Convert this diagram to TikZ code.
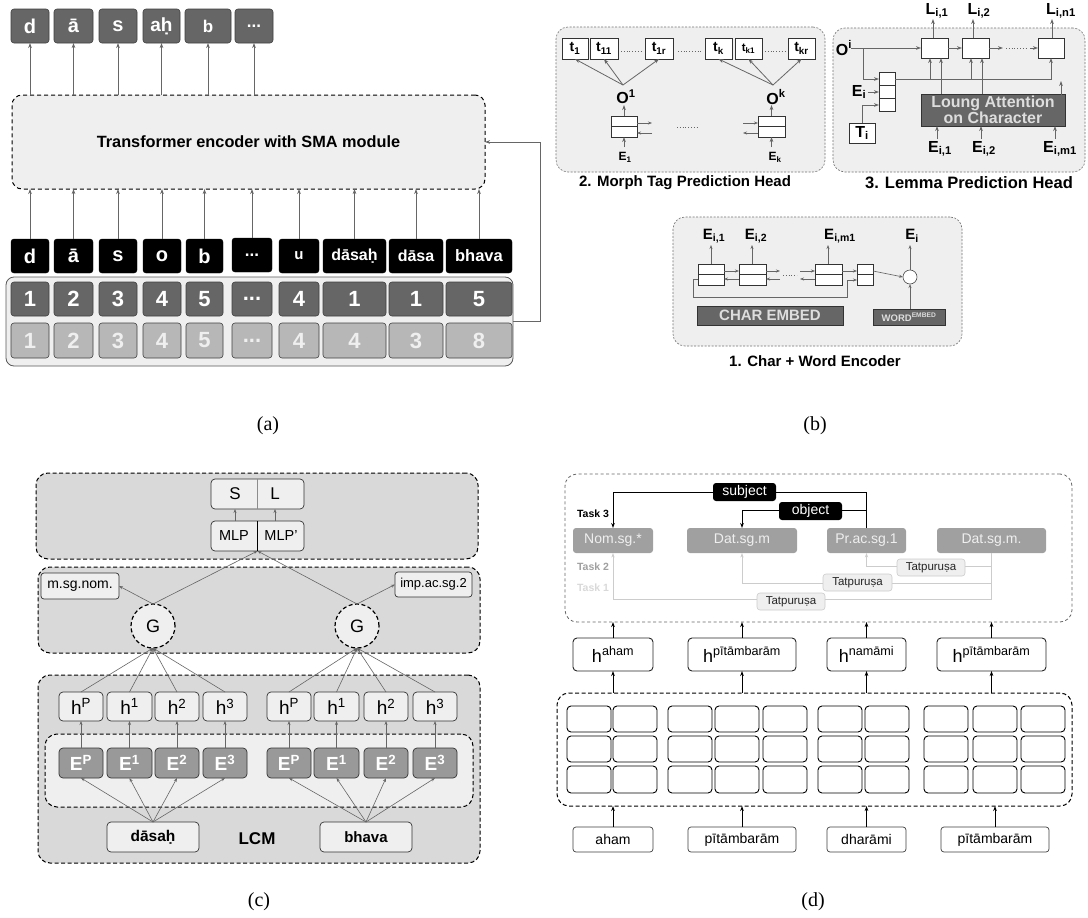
\documentclass[tikz,border=0pt]{standalone}
\usepackage{fontspec}
\setmainfont{Liberation Sans}
\newfontfamily\capfont{Liberation Serif}
\usetikzlibrary{arrows.meta}
\definecolor{gA}{HTML}{666666}
\definecolor{gE}{HTML}{EFEFEF}
\definecolor{gB}{HTML}{B7B7B7}
\definecolor{gD}{HTML}{D9D9D9}
\definecolor{gN}{HTML}{999999}
\definecolor{gL}{HTML}{DDDDDD}
\definecolor{gT}{HTML}{A0A0A0}
\newcommand\fs[1]{\fontsize{#1}{#1}\selectfont}
\newcommand\ddd{...}
\newcommand\bx[7]{\node[#1,minimum width={(#5)-(#3)},minimum height={(#6)-(#4)}] (#2) at ({((#3)+(#5))/2},{((#4)+(#6))/2}) {#7};}
\begin{document}
\begin{tikzpicture}[x=1pt,y=-1pt,
  every node/.style={inner sep=0pt,outer sep=0pt},
  arr/.style={-{Stealth[length=5pt,width=3.6pt]},draw=gA,line width=0.8pt},
  arrs/.style={-{Stealth[length=4pt,width=3pt]},draw=gA,line width=0.6pt},
  arrk/.style={-{Stealth[length=5pt,width=3.6pt]},draw=black,line width=1pt},
  arrl/.style={-{Stealth[length=4.5pt,width=3.2pt]},draw=black!20,line width=1pt},
  dk/.style={draw=black!75,fill=gA,rounded corners=3pt,text=white,font=\bfseries\fs{20},line width=0.6pt},
  blk/.style={draw=black,fill=black,rounded corners=3pt,text=white,font=\bfseries\fs{20}},
  lt/.style={draw=black!75,fill=gB,rounded corners=3pt,text=gE,font=\bfseries\fs{22},line width=0.6pt},
  num/.style={font=\bfseries\fs{22}},
  dashbox/.style={draw=black,dash pattern=on 4pt off 3pt,line width=1pt,rounded corners=10pt},
  gdash/.style={draw=black!55,dash pattern=on 2pt off 1.5pt,line width=0.6pt,rounded corners=12pt,fill=gE},
  wb/.style={draw=black!80,fill=white,line width=0.6pt},
  dots/.style={draw=gA,line width=0.8pt,dash pattern=on 0.8pt off 2pt},
  cdash/.style={draw=black,fill=gD,dash pattern=on 4pt off 2.5pt,line width=1pt,rounded corners=12pt},
  cbx/.style={draw=black!80,fill=gE,rounded corners=4pt,line width=0.7pt},
  ebx/.style={draw=black!80,fill=gN,rounded corners=4pt,line width=0.7pt,text=white,font=\bfseries\fs{19}},
  tag/.style={fill=gT,rounded corners=3pt,text=gE,font=\fs{14}},
  tat/.style={fill=gE,draw=black!20,rounded corners=3pt,font=\fs{11.5},text=black!85,line width=0.6pt},
  cell/.style={draw=black,fill=white,rounded corners=4pt,line width=0.9pt},
  lm/.style={font=\bfseries\fs{16}},
  captxt/.style={font=\capfont\fs{20}}
]
\fill[white] (0,0) rectangle (1088,918);
\useasboundingbox (0,0) rectangle (1088,918);

% ================= (a) =================
\bx{dk}{ot1}{11}{9}{49}{43}{d}
\bx{dk}{ot2}{54}{9}{93}{43}{ā}
\bx{dk}{ot3}{99}{9}{137}{43}{s}
\bx{dk,font=\bfseries\fs{19}}{ot4}{143}{9}{180}{43}{aḥ}
\bx{dk,font=\bfseries\fs{17}}{ot5}{185}{9}{231}{43}{b}
\bx{dk,font=\bfseries\fs{17}}{ot6}{235}{9}{273}{43}{...}
\bx{dashbox,fill=gE}{tr}{12}{95}{485}{189}{\bfseries\fs{16.3}Transformer encoder with SMA module}
\foreach \i in {1,...,6} \draw[arr] (tr.north -| ot\i.south) -- (ot\i.south);

\bx{blk}{ib1}{11}{239}{49}{273}{d}
\bx{blk}{ib2}{54}{239}{93}{273}{ā}
\bx{blk}{ib3}{99}{239}{137}{273}{s}
\bx{blk}{ib4}{143}{239}{181}{273}{o}
\bx{blk}{ib5}{186}{239}{223}{273}{b}
\bx{blk,font=\bfseries\fs{17}}{ib6}{232}{238}{272}{272}{...}
\bx{blk,font=\bfseries\fs{15}}{ib7}{279}{239}{319}{273}{u}
\bx{blk,font=\bfseries\fs{16}}{ib8}{323}{239}{386}{273}{dāsaḥ}
\bx{blk,font=\bfseries\fs{16}}{ib9}{389}{239}{443}{273}{dāsa}
\bx{blk,font=\bfseries\fs{16.5}}{ib10}{446}{239}{512}{273}{bhava}
\foreach \i in {1,...,10} \draw[arr] (ib\i.north) -- (tr.south -| ib\i.north);

\bx{draw=black!65,fill=gE,rounded corners=8pt,line width=0.8pt}{cont}{6}{277}{513}{366}{}
\foreach \n/\a/\b/\t/\u in {1/11/49/1/1,2/54/93/2/2,3/99/137/3/3,4/143/181/4/4,5/186/223/5/5,6/232/272/\ddd/\ddd,7/279/319/4/4,8/323/386/1/4,9/389/443/1/3,10/446/512/5/8}{
  \bx{dk,num}{ra\n}{\a}{282}{\b}{316}{\t}
  \bx{lt}{rb\n}{\a}{323}{\b}{358}{\u}
}
\draw[arr] (cont.east) -- ++(27,0) |- (tr.east);

\node[captxt] (capa) at (268,426) {(a)};

% ================= (b) morph head =================
\bx{gdash}{mh}{556}{27}{825}{172}{}
\node[font=\bfseries\fs{15}] (mht) at (685,183) {2. Morph Tag Prediction Head};
\bx{wb,font=\bfseries\fs{14}}{tb1}{562}{38}{588}{59}{t\textsubscript{1}}
\bx{wb,font=\bfseries\fs{14}}{tb2}{590}{38}{618}{59}{t\textsubscript{11}}
\bx{wb,font=\bfseries\fs{14}}{tb3}{645}{38}{673}{59}{t\textsubscript{1r}}
\bx{wb,font=\bfseries\fs{14}}{tb4}{705}{38}{732}{59}{t\textsubscript{k}}
\bx{wb,font=\bfseries\fs{11.5}}{tb5}{735}{38}{762}{59}{t\textsubscript{k1}}
\bx{wb,font=\bfseries\fs{14}}{tb6}{788}{38}{815}{59}{t\textsubscript{kr}}
\draw[dots] (621,51) -- (643,51);
\draw[dots] (678,51) -- (701,51);
\draw[dots] (765,51) -- (786,51);
\node[font=\bfseries\fs{16}] (o1) at (626,97) {O\textsuperscript{1}};
\node[font=\bfseries\fs{16}] (ok) at (776,97) {O\textsuperscript{k}};
\coordinate (o1t) at (623,85);
\coordinate (okt) at (773,85);
\foreach \i in {1,2,3} \draw[arr] (o1t) -- (tb\i.south);
\foreach \i in {4,5,6} \draw[arr] (okt) -- (tb\i.south);
\bx{wb}{ls1}{611}{116}{637}{137}{}
\bx{wb}{ls2}{758}{116}{785}{137}{}
\draw[black!80] (ls1.west) -- (ls1.east) (ls2.west) -- (ls2.east);
\draw[arr] (ls1.north) -- (ls1.north |- 0,105);
\draw[arr] (ls2.north) -- (ls2.north |- 0,105);
\node[font=\bfseries\fs{12}] (e1) at (625,157) {E\textsubscript{1}};
\node[font=\bfseries\fs{12}] (ek) at (775,157) {E\textsubscript{k}};
\draw[arr] (ls1.south |- 0,147) -- (ls1.south);
\draw[arr] (ls2.south |- 0,147) -- (ls2.south);
\draw[arrs] (ls1.east |- 0,123) -- ++(15,0);
\draw[arrs] (652,133) -- (ls1.east |- 0,133);
\draw[arrs] (743,123) -- (ls2.west |- 0,123);
\draw[arrs] (ls2.west |- 0,133) -- ++(-15,0);
\draw[dots] (677,127) -- (698,127);

% ================= (b) lemma head =================
\bx{gdash}{lh}{833}{28}{1085}{172}{}
\node[font=\bfseries\fs{16.5}] (lht) at (969,183) {3. Lemma Prediction Head};
\node[lm] (oi) at (844,48) {O\textsuperscript{i}};
\bx{wb}{db1}{921}{38}{948}{58}{}
\bx{wb}{db2}{962}{38}{989}{58}{}
\bx{wb}{db3}{1038}{38}{1064}{58}{}
\draw[arr] (851,48) -- (db1.west);
\draw[arr] (db1.east) -- (db2.west);
\draw[arr] (db2.east) -- ++(14,0);
\draw[dots] (1006,48) -- (1028,48);
\draw[arr] ([xshift=-8pt]db3.west) -- (db3.west);
\bx{wb}{cb}{879}{72}{895}{111}{}
\draw[black!80] (879,85) -- (895,85) (879,98) -- (895,98);
\coordinate (oj) at (863,48);
\draw[arr] (oj) |- (cb.west |- 0,79);
\node[lm] (ei) at (859,92) {E\textsubscript{i}};
\draw[arr] (868,92) -- (cb.west |- 0,92);
\bx{wb,lm}{ti}{849}{123}{875}{143}{T\textsubscript{i}}
\draw[arr] (ti.north) |- (cb.west |- 0,105);
\draw[arr] (cb.east |- 0,79) -| (db3.south);
\draw[arr] (930,79) -- (db1.south -| 930,0);
\draw[arr] (971,79) -- (db2.south -| 971,0);
\bx{draw=black!80,fill=gA,text=gL,font=\bfseries\fs{16},align=center}{att}{921}{94}{1065}{126}{Loung Attention\\on Character}
\draw[arr] (att.north -| 941,0) -- (db1.south -| 941,0);
\draw[arr] (att.north -| 982,0) -- (db2.south -| 982,0);
\draw[arr] (1061,110) -- (1061,81);
\node[lm] (eia) at (940,149) {E\textsubscript{i,1}};
\node[lm] (eib) at (984,149) {E\textsubscript{i,2}};
\node[lm] (eic) at (1060,149) {E\textsubscript{i,m1}};
\draw[arr] (937,139) -- (att.south -| 937,0);
\draw[arr] (981,139) -- (att.south -| 981,0);
\draw[arr] (1055,139) -- (att.south -| 1055,0);
\node[lm] (la) at (937,11) {L\textsubscript{i,1}};
\node[lm] (lb) at (979,11) {L\textsubscript{i,2}};
\node[lm] (lc) at (1061,11) {L\textsubscript{i,n1}};
\draw[arr] (db1.north -| 933,0) -- (933,19);
\draw[arr] (db2.north -| 973,0) -- (973,19);
\draw[arr] (db3.north -| 1052,0) -- (1052,19);

% ================= (b) char + word encoder =================
\bx{gdash}{cw}{673}{217}{962}{346}{}
\node[font=\bfseries\fs{15}] (cwt) at (815,361) {1. Char + Word Encoder};
\bx{wb}{c1}{698}{264}{724}{285}{}
\bx{wb}{c2}{739}{264}{766}{285}{}
\bx{wb}{c3}{815}{264}{842}{285}{}
\bx{wb}{cc}{857}{264}{873}{285}{}
\draw[black!80] (c1.west) -- (c1.east) (c2.west) -- (c2.east) (c3.west) -- (c3.east) (cc.west) -- (cc.east);
\draw[arrs] (c1.east |- 0,271) -- (c2.west |- 0,271);
\draw[arrs] (c2.west |- 0,279) -- (c1.east |- 0,279);
\draw[arrs] (c2.east |- 0,271) -- ++(14,0);
\draw[arrs] (780,279) -- (c2.east |- 0,279);
\draw[dots] (783,275) -- (797,275);
\draw[arrs] (800,271) -- (c3.west |- 0,271);
\draw[arrs] (c3.west |- 0,279) -- ++(-15,0);
\draw[arrs] (c3.east |- 0,271) -- (cc.west |- 0,271);
\draw[draw=gA,line width=0.6pt] (c1.west |- 0,279) -- (693,279) -- (693,297) -- (847,297) -- (847,280);
\draw[arrs] (847,280) -- (cc.west |- 0,280);
\node[circle,draw=black!70,fill=white,minimum size=14pt,line width=0.6pt] (circ) at (910,277) {};
\draw[arrs] (cc.east |- 0,271) -- (circ.west);
\bx{draw=black!80,fill=gA,text=gL,font=\bfseries\fs{9.5}}{wrd}{873}{309}{945}{325}{WORD\textsuperscript{EMBED}}
\draw[arrs] (wrd.north -| circ.south) -- (circ.south);
\bx{draw=black!80,fill=gA,text=gL,font=\bfseries\fs{15}}{che}{697}{306}{843}{325}{CHAR EMBED}
\node[font=\bfseries\fs{15}] (eca) at (714,236) {E\textsubscript{i,1}};
\node[font=\bfseries\fs{15}] (ecb) at (756,236) {E\textsubscript{i,2}};
\node[font=\bfseries\fs{15}] (ecc) at (840,236) {E\textsubscript{i,m1}};
\node[font=\bfseries\fs{15}] (ecd) at (912,236) {E\textsubscript{i}};
\draw[arrs] (c1.north -| 711,0) -- (711,245);
\draw[arrs] (c2.north -| 752,0) -- (752,245);
\draw[arrs] (c3.north -| 828,0) -- (828,245);
\draw[arrs] (circ.north) -- (910,245);

\node[captxt] (capb) at (815,426) {(b)};

% ================= (c) =================
\bx{cdash}{ct}{36}{473}{478}{559}{}
\bx{cdash}{cm}{38}{567}{480}{653}{}
\bx{cdash}{cbt}{38}{675}{480}{863}{}
\bx{cdash,fill=gE}{cin}{45}{734}{473}{807}{}
\bx{cbx}{sl}{211}{479}{304}{509}{}
\draw[draw=black!45,line width=0.8pt] (sl.north) -- (sl.south);
\node[font=\fs{17}] (sS) at (235,494) {S};
\node[font=\fs{17}] (sL) at (275,494) {L};
\bx{cbx}{mlp}{211}{521}{304}{551}{}
\draw[draw=black,line width=0.8pt] (mlp.north) -- (mlp.south);
\node[font=\fs{14.5}] (mA) at (234,536) {MLP};
\node[font=\fs{14.5}] (mB) at (281,536) {MLP'};
\draw[arrs] (mlp.north -| sS) -- (sl.south -| sS);
\draw[arrs] (mlp.north -| 275,0) -- (sl.south -| 275,0);
\bx{cbx,rounded corners=3pt,font=\fs{14}}{msg}{41}{573}{119}{599}{m.sg.nom.}
\bx{cbx,rounded corners=3pt,font=\fs{13}}{imp}{395}{572}{472}{597}{imp.ac.sg.2}
\node[circle,draw=black,fill=gE,dash pattern=on 4pt off 2.5pt,line width=1.2pt,minimum size=44pt,font=\fs{18}] (G1) at (153,626) {G};
\node[circle,draw=black,fill=gE,dash pattern=on 4pt off 2.5pt,line width=1.2pt,minimum size=44pt,font=\fs{18}] (G2) at (357,626) {G};
\draw[arrs] (G1.north) -- (mlp.south);
\draw[arrs] (G2.north) -- (mlp.south);
\draw[arrs] (G1.north) -- (msg.east);
\draw[arrs] (G2.north) -- (imp.west);
\foreach \n/\a/\b/\s in {1/59/103/P,2/107/152/1,3/155/199/2,4/203/247/3}{
  \bx{cbx,font=\fs{19}}{ha\n}{\a}{692}{\b}{721}{h\textsuperscript{\s}}
  \bx{ebx}{ea\n}{\a}{748}{\b}{778}{E\textsuperscript{\s}}
  \draw[arrs] (ea\n.north) -- (ha\n.south);
  \draw[arrs] (ha\n.north) -- (G1.south);
}
\foreach \n/\a/\b/\s in {1/267/311/P,2/314/359/1,3/364/408/2,4/413/457/3}{
  \bx{cbx,font=\fs{19}}{hb\n}{\a}{692}{\b}{721}{h\textsuperscript{\s}}
  \bx{ebx}{eb\n}{\a}{748}{\b}{778}{E\textsuperscript{\s}}
  \draw[arrs] (eb\n.north) -- (hb\n.south);
  \draw[arrs] (hb\n.north) -- (G2.south);
}
\bx{cbx,font=\bfseries\fs{15.5}}{ds}{107}{822}{199}{852}{dāsaḥ}
\bx{cbx,font=\bfseries\fs{15}}{bh}{320}{822}{412}{852}{bhava}
\foreach \n in {1,...,4}{
  \draw[arrs] (ds.north) -- (ea\n.south);
  \draw[arrs] (bh.north) -- (eb\n.south);
}
\node[font=\bfseries\fs{17}] (lcm) at (257,839) {LCM};

\node[captxt] (capc) at (259,902) {(c)};

% ================= (d) =================
\bx{draw=black!60,dash pattern=on 3pt off 2.5pt,line width=0.8pt,rounded corners=12pt}{dt}{565}{474}{1072}{622}{}
\bx{tag}{nd1}{573}{528}{653}{553}{Nom.sg.*}
\bx{tag}{nd2}{687}{528}{797}{553}{Dat.sg.m}
\bx{tag}{nd3}{827}{528}{906}{553}{Pr.ac.sg.1}
\bx{tag}{nd4}{937}{528}{1046}{553}{Dat.sg.m.}
\node[font=\bfseries\fs{10.5}] (t3) at (593,514) {Task 3};
\node[font=\bfseries\fs{10.5},text=gT] (t2) at (593,567) {Task 2};
\node[font=\bfseries\fs{10.5},text=black!15] (t1) at (593,588) {Task 1};
\draw[arrk] (nd3.north) -- (nd3.north |- 0,492) -- (nd1.north |- 0,492) -- (nd1.north);
\draw[arrk] (nd3.north |- 0,510) -- (nd2.north |- 0,510) -- (nd2.north);
\bx{fill=black,rounded corners=3pt,text=white,font=\fs{14}}{sbj}{713}{483}{776}{501}{subject}
\bx{fill=black,rounded corners=3pt,text=white,font=\fs{14}}{obj}{779}{502}{842}{520}{object}
\draw[draw=black!20,line width=1pt] (nd4.south) -- (nd4.south |- 0,599);
\draw[arrl] (nd4.south |- 0,566) -- (nd3.south |- 0,566) -- (nd3.south);
\draw[arrl] (nd4.south |- 0,583) -- (nd2.south |- 0,583) -- (nd2.south);
\draw[arrl] (nd4.south |- 0,599) -- (nd1.south |- 0,599) -- (nd1.south);
\bx{tat}{tp1}{897}{559}{965}{576}{Tatpuruṣa}
\bx{tat}{tp2}{823}{574}{892}{591}{Tatpuruṣa}
\bx{tat}{tp3}{757}{593}{825}{610}{Tatpuruṣa}

\bx{draw=black,dash pattern=on 4pt off 2.5pt,line width=1pt,rounded corners=12pt}{ld}{557}{693}{1072}{806}{}
\foreach \a/\b [count=\c] in {567/611,613/657,668/712,715/759,763/807,818/862,865/909,924/968,973/1017,1021/1065}{
  \foreach \y/\z [count=\r] in {706/732,736/762,766/793}{
    \bx{cell}{g\c-\r}{\a}{\y}{\b}{\z}{}
  }
}
\foreach \n/\a/\b/\s in {1/573/653/aham,2/688/796/pītāmbarām,3/827/906/namāmi,4/937/1046/pītāmbarām}{
  \bx{cell,draw=black!85,font=\fs{18}}{hd\n}{\a}{638}{\b}{671}{h\textsuperscript{\s}}
  \draw[arrk] (ld.north -| hd\n.south) -- (hd\n.south);
  \draw[arrk] (hd\n.north) -- (dt.south -| hd\n.north);
}
\foreach \n/\a/\b/\s in {1/573/653/aham,2/688/796/pītāmbarām,3/827/906/dharāmi,4/941/1049/pītāmbarām}{
  \bx{cell,draw=black!75,line width=0.7pt,rounded corners=3pt,font=\fs{14}}{wd\n}{\a}{827}{\b}{852}{\s}
  \draw[arrk] (wd\n.north) -- (ld.south -| wd\n.north);
}

\node[captxt] (capd) at (813,902) {(d)};
\end{tikzpicture}
\end{document}
